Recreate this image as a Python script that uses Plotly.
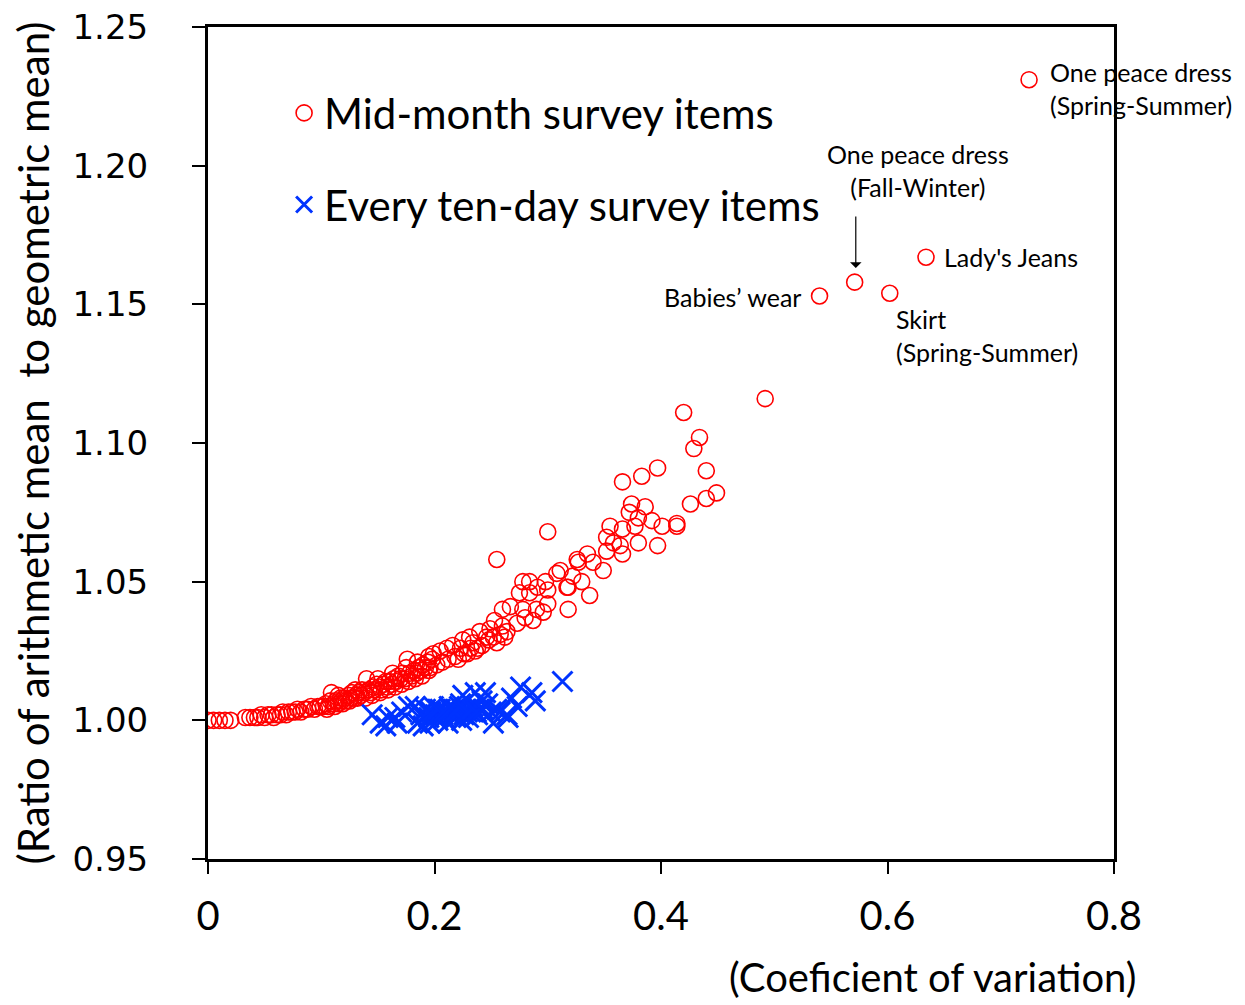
import plotly.graph_objects as go

# ---------------- data ----------------
mid_cv = [
    0.000, 0.005, 0.010, 0.015, 0.020,
    0.033, 0.037, 0.041, 0.044, 0.047, 0.050, 0.053, 0.056, 0.058, 0.061, 0.064, 0.066,
    0.069, 0.071, 0.074, 0.077, 0.079, 0.082, 0.085, 0.088, 0.091, 0.094, 0.097, 0.099,
    0.102, 0.104, 0.106, 0.108, 0.109, 0.111, 0.113, 0.115, 0.117, 0.118, 0.120, 0.122,
    0.124, 0.126, 0.127, 0.129, 0.131, 0.133, 0.135, 0.136, 0.138, 0.140, 0.142, 0.144,
    0.146, 0.147, 0.149, 0.151, 0.153, 0.155, 0.157, 0.158, 0.160, 0.162, 0.164, 0.166,
    0.168, 0.170, 0.172, 0.174, 0.176, 0.178, 0.180, 0.182, 0.184, 0.186, 0.188, 0.190,
    0.192, 0.194, 0.196, 0.198,
    0.105, 0.112, 0.119, 0.125, 0.132, 0.139, 0.145, 0.152, 0.159, 0.165, 0.171, 0.177,
    0.183, 0.189, 0.195,
    0.115, 0.130, 0.150, 0.163, 0.175, 0.185, 0.195,
    0.202, 0.207, 0.212, 0.218, 0.221, 0.226, 0.232, 0.236, 0.242, 0.248, 0.252, 0.258, 0.262,
    0.199, 0.205, 0.211, 0.216, 0.223, 0.225, 0.229, 0.231, 0.234, 0.238, 0.240, 0.246,
    0.249, 0.253, 0.255, 0.260, 0.264, 0.267, 0.273, 0.275, 0.278, 0.280, 0.284, 0.287,
    0.290, 0.291, 0.296, 0.298, 0.300, 0.260, 0.278, 0.284, 0.300, 0.308, 0.318, 0.318,
    0.255, 0.300,
    0.311, 0.317, 0.322, 0.327, 0.330, 0.335, 0.337, 0.340, 0.349, 0.352, 0.352, 0.355,
    0.358, 0.364, 0.366, 0.366, 0.372, 0.374, 0.377, 0.380, 0.380, 0.386, 0.392, 0.397,
    0.401, 0.414, 0.414, 0.426, 0.440, 0.449, 0.326,
    0.366, 0.383, 0.397, 0.440, 0.429, 0.434, 0.420, 0.492,
    0.540, 0.571, 0.602, 0.634, 0.725,
]
mid_ratio = [
    1.000, 1.000, 1.000, 1.000, 1.000,
    1.001, 1.001, 1.001, 1.001, 1.002, 1.001, 1.002, 1.002, 1.001, 1.002, 1.002, 1.003,
    1.002, 1.003, 1.003, 1.003, 1.004, 1.003, 1.004, 1.004, 1.005, 1.004, 1.005, 1.005,
    1.005, 1.006, 1.005, 1.007, 1.010, 1.006, 1.007, 1.006, 1.008, 1.007, 1.008, 1.007,
    1.009, 1.008, 1.010, 1.008, 1.009, 1.010, 1.009, 1.011, 1.010, 1.015, 1.011, 1.010,
    1.012, 1.011, 1.013, 1.012, 1.011, 1.013, 1.014, 1.012, 1.014, 1.013, 1.015, 1.014,
    1.016, 1.015, 1.017, 1.015, 1.022, 1.017, 1.016, 1.018, 1.017, 1.019, 1.018, 1.020,
    1.019, 1.021, 1.019, 1.022,
    1.004, 1.005, 1.006, 1.007, 1.008, 1.008, 1.009, 1.010, 1.011, 1.012, 1.013, 1.014,
    1.015, 1.016, 1.018,
    1.009, 1.011, 1.015, 1.017, 1.019, 1.021, 1.023,
    1.020, 1.021, 1.022, 1.023, 1.022, 1.024, 1.026, 1.025, 1.027, 1.029, 1.030, 1.031, 1.030,
    1.024, 1.025, 1.026, 1.027, 1.026, 1.029, 1.024, 1.030, 1.028, 1.026, 1.032, 1.030,
    1.033, 1.036, 1.028, 1.034, 1.032, 1.041, 1.035, 1.046, 1.040, 1.037, 1.046, 1.036,
    1.040, 1.048, 1.039, 1.050, 1.047, 1.040, 1.050, 1.050, 1.042, 1.053, 1.048, 1.040,
    1.058, 1.068,
    1.054, 1.048, 1.052, 1.057, 1.050, 1.060, 1.045, 1.057, 1.054, 1.066, 1.061, 1.070,
    1.064, 1.063, 1.069, 1.060, 1.075, 1.078, 1.070, 1.073, 1.064, 1.077, 1.072, 1.063,
    1.070, 1.071, 1.070, 1.078, 1.080, 1.082, 1.058,
    1.086, 1.088, 1.091, 1.090, 1.098, 1.102, 1.111, 1.116,
    1.153, 1.158, 1.154, 1.167, 1.231,
]

ten_cv = [
    0.145, 0.152, 0.157, 0.159, 0.165, 0.167, 0.171, 0.177, 0.183, 0.185, 0.190, 0.188,
    0.192, 0.195, 0.197, 0.199, 0.201, 0.203, 0.205, 0.207, 0.209, 0.211, 0.213, 0.215,
    0.217, 0.219, 0.221, 0.223, 0.225, 0.226, 0.228, 0.230, 0.232, 0.234, 0.236, 0.238,
    0.240, 0.242, 0.245, 0.247, 0.250, 0.252, 0.255, 0.258, 0.264, 0.265, 0.268, 0.273,
    0.276, 0.286, 0.289, 0.313, 0.196, 0.212, 0.224,
    0.194, 0.203, 0.208, 0.214, 0.218, 0.222, 0.229, 0.233, 0.237, 0.243,
]
ten_ratio = [
    1.002, 0.999, 0.998, 1.001, 1.001, 0.999, 1.003, 1.005, 1.005, 0.999, 0.998, 1.002,
    1.004, 1.001, 1.003, 1.005, 1.002, 1.000, 1.004, 1.002, 1.001, 1.003, 1.005, 1.002,
    1.004, 1.001, 1.003, 1.006, 1.009, 1.002, 1.004, 1.001, 1.003, 1.005, 1.010, 1.002,
    1.004, 1.007, 1.010, 1.006, 1.003, 0.999, 1.004, 1.003, 1.002, 1.001, 1.008, 1.005,
    1.012, 1.010, 1.007, 1.014, 0.999, 0.999, 1.000,
    1.003, 1.004, 1.003, 1.004, 1.003, 1.005, 1.003, 1.004, 1.003, 1.004,
]

x_ticks = [0, 0.2, 0.4, 0.6, 0.8]
y_ticks = [0.95, 1.00, 1.05, 1.10, 1.15, 1.20, 1.25]

NARROW = "Lato, sans-serif"

fig = go.Figure()
fig.add_trace(go.Scatter(
    x=mid_cv, y=mid_ratio, mode="markers", name="Mid-month survey items",
    legendgroup="a",
    marker=dict(symbol="circle-open", size=16, color="#ff0000",
                line=dict(width=1.6, color="#ff0000")),
))
fig.add_trace(go.Scatter(
    x=ten_cv, y=ten_ratio, mode="markers", name="Every ten-day survey items",
    legendgroup="b",
    marker=dict(symbol="x-thin-open", size=20, color="#0033ff",
                line=dict(width=3, color="#0033ff")),
))

ann_font = dict(family=NARROW, size=25, color="black")
fig.update_layout(
    width=1237, height=997,
    margin=dict(l=200, r=131, t=19, b=146),
    paper_bgcolor="white", plot_bgcolor="white",
    font=dict(family=NARROW, color="black"),
    showlegend=True,
    legend=dict(x=0.084, y=0.9374, xanchor="left", yanchor="top",
                bgcolor="rgba(0,0,0,0)", font=dict(family=NARROW, size=42),
                tracegroupgap=34, itemsizing="trace"),
    xaxis=dict(range=[0, 0.8], tickvals=x_ticks, ticktext=["0", "0.2", "0.4", "0.6", "0.8"],
               showgrid=False, zeroline=False, showline=True, linecolor="black",
               linewidth=3, mirror=True, ticks="outside", ticklen=12, tickwidth=2,
               tickcolor="black", ticklabelstandoff=8, automargin=False,
               ticklabeloverflow="allow",
               tickfont=dict(family=NARROW, size=40)),
    yaxis=dict(range=[0.95, 1.25], tickvals=y_ticks, tickformat=".2f",
               showgrid=False, zeroline=False, showline=True, linecolor="black",
               linewidth=3, mirror=True, ticks="outside", ticklen=13, tickwidth=2,
               tickcolor="black", ticklabelstandoff=37, automargin=False,
               ticklabeloverflow="allow",
               tickfont=dict(family="DejaVu Sans", size=34),
               title=dict(text="(Ratio of arithmetic mean  to geometric mean)",
                          font=dict(family=NARROW, size=42), standoff=20)),
    annotations=[
        dict(text="(Coeficient of variation)", xref="paper", yref="paper",
             x=0.800, y=-0.1418, xanchor="center", yanchor="middle", showarrow=False,
             font=dict(family=NARROW, size=40, color="black")),
        dict(text="One peace dress<br>(Spring-Summer)", x=0.7417, y=1.2278,
             xanchor="left", yanchor="middle", align="left", showarrow=False, font=ann_font),
        dict(text="One peace dress<br>(Fall-Winter)", x=0.627, y=1.1984,
             xanchor="center", yanchor="middle", align="center", showarrow=False, font=ann_font),
        dict(text="", x=0.572, y=1.1631, ax=0.572, ay=1.1822, axref="x", ayref="y",
             showarrow=True, arrowhead=1, arrowsize=1.6, arrowwidth=1.2, arrowcolor="black"),
        dict(text="Lady's Jeans", x=0.648, y=1.1671, xanchor="left", yanchor="middle",
             showarrow=False, font=ann_font),
        dict(text="Babies’ wear", x=0.5254, y=1.1526, xanchor="right", yanchor="middle",
             showarrow=False, font=ann_font),
        dict(text="Skirt<br>(Spring-Summer)", x=0.6057, y=1.1389, xanchor="left",
             yanchor="middle", align="left", showarrow=False, font=ann_font),
    ],
)

fig.write_html("out.html")
